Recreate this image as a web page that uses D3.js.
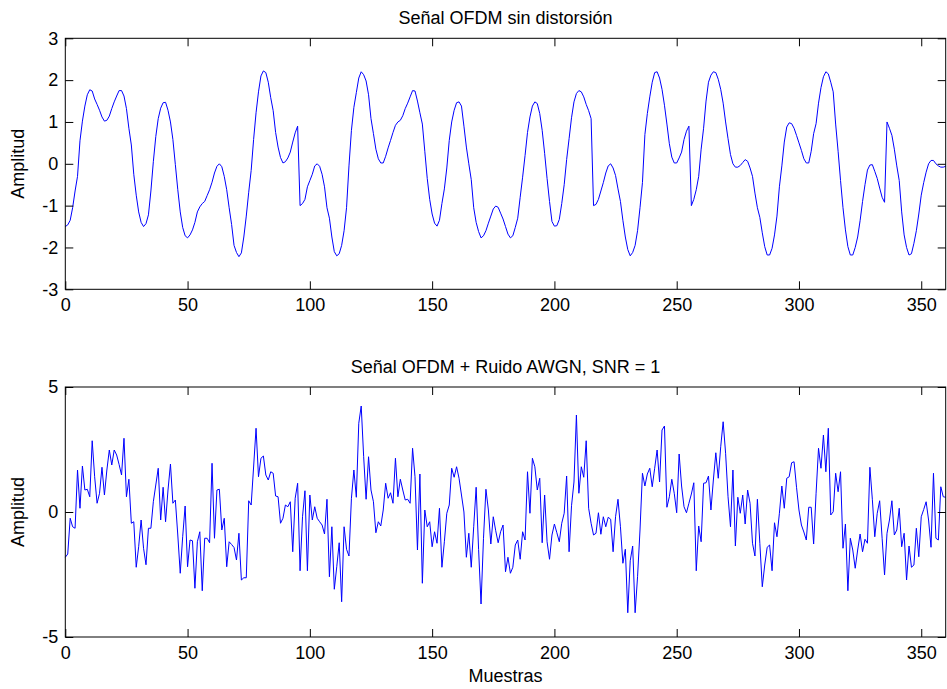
<!DOCTYPE html>
<html>
<head>
<meta charset="utf-8">
<script src="https://cdn.jsdelivr.net/npm/d3@7"></script>
<style>
  body { margin: 0; background: #fff; }
  svg text { font-family: "Liberation Sans", Arial, Helvetica, sans-serif; }
</style>
</head>
<body>
<svg id="fig" width="947" height="689"></svg>
<script>
// Señal OFDM limpia, una muestra por índice (0..360)
const senalLimpia = [
  -1.50, -1.46, -1.35, -1.05, -0.65, -0.30, 0.55, 1.02, 1.38, 1.65,
  1.77, 1.74, 1.55, 1.42, 1.28, 1.12, 1.02, 1.04, 1.14, 1.32,
  1.48, 1.62, 1.75, 1.75, 1.62, 1.32, 0.85, 0.45, -0.25, -0.75,
  -1.15, -1.40, -1.50, -1.43, -1.22, -0.65, 0.05, 0.65, 1.08, 1.33,
  1.46, 1.47, 1.28, 1.00, 0.58, -0.02, -0.62, -1.15, -1.52, -1.72,
  -1.77, -1.70, -1.58, -1.40, -1.15, -1.03, -0.95, -0.90, -0.76, -0.62,
  -0.44, -0.22, -0.06, 0.00, -0.07, -0.30, -0.62, -1.05, -1.45, -1.95,
  -2.12, -2.22, -2.13, -1.75, -1.25, -0.68, -0.16, 0.58, 1.22, 1.72,
  2.10, 2.22, 2.18, 1.95, 1.58, 1.27, 0.75, 0.40, 0.15, 0.02,
  0.05, 0.14, 0.28, 0.52, 0.74, 0.90, -1.00, -0.95, -0.85, -0.55,
  -0.40, -0.25, -0.05, 0.00, -0.06, -0.25, -0.55, -1.05, -1.30, -1.75,
  -2.10, -2.20, -2.15, -1.95, -1.60, -1.05, -0.05, 0.80, 1.35, 1.70,
  2.05, 2.20, 2.13, 1.98, 1.65, 1.08, 0.72, 0.35, 0.12, 0.02,
  0.02, 0.18, 0.38, 0.56, 0.75, 0.92, 1.00, 1.04, 1.15, 1.32,
  1.45, 1.60, 1.75, 1.74, 1.50, 1.22, 0.95, 0.30, -0.35, -0.85,
  -1.20, -1.42, -1.49, -1.35, -0.95, -0.60, -0.10, 0.56, 1.00, 1.28,
  1.46, 1.48, 1.38, 0.90, 0.40, 0.00, -0.38, -1.05, -1.40, -1.62,
  -1.77, -1.72, -1.60, -1.42, -1.25, -1.08, -1.01, -1.04, -1.18, -1.32,
  -1.50, -1.68, -1.77, -1.72, -1.52, -1.30, -0.80, -0.32, 0.20, 0.75,
  1.12, 1.38, 1.48, 1.44, 1.20, 0.80, 0.25, -0.35, -0.90, -1.38,
  -1.49, -1.48, -1.33, -0.95, -0.50, 0.10, 0.60, 1.10, 1.48, 1.68,
  1.75, 1.72, 1.60, 1.42, 1.27, 1.08, -1.00, -0.97, -0.85, -0.65,
  -0.45, -0.22, -0.05, 0.00, -0.10, -0.28, -0.60, -0.90, -1.35, -1.75,
  -2.05, -2.20, -2.12, -1.95, -1.60, -1.05, -0.45, 0.70, 1.20, 1.60,
  1.95, 2.18, 2.20, 2.05, 1.78, 1.40, 0.95, 0.48, 0.16, 0.02,
  0.02, 0.14, 0.28, 0.58, 0.78, 0.90, -1.00, -0.85, -0.62, -0.30,
  0.35, 0.85, 1.50, 1.95, 2.12, 2.20, 2.18, 2.02, 1.78, 1.45,
  1.00, 0.60, 0.22, 0.00, -0.08, -0.08, -0.04, 0.03, 0.10, 0.06,
  -0.10, -0.30, -0.70, -1.05, -1.28, -1.65, -1.98, -2.18, -2.18, -2.02,
  -1.70, -1.25, -0.55, -0.05, 0.52, 0.88, 0.98, 0.96, 0.85, 0.68,
  0.50, 0.32, 0.12, 0.02, 0.02, 0.30, 0.72, 0.96, 1.45, 1.82,
  2.08, 2.20, 2.15, 1.95, 1.72, 0.95, 0.30, -0.40, -1.05, -1.58,
  -1.98, -2.18, -2.18, -2.00, -1.75, -1.36, -0.90, -0.50, -0.15, -0.03,
  -0.02, -0.18, -0.35, -0.58, -0.80, -0.92, 1.00, 0.85, 0.68, 0.35,
  -0.05, -0.40, -1.15, -1.70, -2.00, -2.18, -2.15, -1.90, -1.60, -1.20,
  -0.75, -0.45, -0.20, 0.00, 0.08, 0.08, 0.00, -0.05, -0.08, -0.08,
  -0.06
];

// La misma señal tras el canal AWGN (SNR = 1)
const senalRuidosa = [
  -1.81, -1.68, -0.25, -0.59, -0.65, 1.68, 0.15, 1.84, 0.88, 0.91,
  0.61, 2.85, 1.41, 0.35, 0.75, 1.79, 0.68, 1.68, 2.48, 1.88,
  2.48, 2.28, 1.90, 1.48, 2.95, 0.61, 1.31, -0.45, -0.39, -2.21,
  -1.39, -0.32, -1.45, -2.11, -0.65, -0.65, 0.41, 1.08, 1.75, -0.32,
  0.99, -0.39, 0.88, 1.92, 0.35, 0.48, -0.92, -2.45, -0.99, 0.24,
  -2.19, -1.12, -1.15, -3.05, -1.19, -0.79, -3.15, -1.05, -1.05, -1.23,
  1.95, -1.05, 0.88, 0.91, -0.72, -0.25, -2.19, -1.19, -1.30, -1.42,
  -1.92, -0.85, -2.72, -2.63, -2.63, 0.45, 0.28, 1.80, 3.35, 1.41,
  2.15, 2.24, 1.48, 1.28, 1.61, 1.55, 0.64, 0.61, -0.45, -0.25,
  0.28, 0.21, 0.41, -1.59, 0.55, 1.15, -2.35, -0.19, 0.85, -2.35,
  0.68, -0.32, 0.21, -0.25, -0.39, -0.52, -0.88, 0.51, -2.59, -0.59,
  -3.09, -2.19, -1.23, -3.59, -0.59, -1.49, -1.76, 0.55, 1.68, 0.59,
  3.55, 4.24, 2.21, 0.51, 2.21, 0.88, 0.41, -0.83, -0.39, -0.56,
  0.08, 1.15, 0.55, 0.77, 0.35, 2.15, 0.61, 1.31, 0.88, 0.48,
  0.51, 0.35, 2.55, 1.41, -1.52, 1.52, -2.85, 0.08, -0.59, -0.39,
  -1.39, -0.79, -1.25, 0.15, -2.21, -1.19, -0.05, 0.28, 1.75, 1.39,
  1.81, 1.35, 0.68, 0.00, -1.81, -0.85, -2.21, -0.59, 0.99, -1.50,
  -3.68, -1.05, 0.91, 0.08, -1.28, -0.19, -0.75, -1.23, -0.79, -0.52,
  -2.39, -1.81, -2.45, -2.21, -1.32, -1.12, -1.89, -0.79, -1.12, 1.61,
  -0.05, 2.15, 1.81, 0.88, 1.35, -1.23, 0.68, -1.19, -1.89, -0.92,
  -0.48, -0.83, -1.19, -0.45, -0.05, 1.44, -1.59, 0.25, 1.20, 3.88,
  0.75, 1.81, 1.39, 2.85, 0.15, -0.45, -0.92, -0.85, -0.03, -0.89,
  -0.19, -0.59, -0.21, -0.29, -1.59, -0.19, 0.51, -0.59, -2.05, -1.49,
  -4.03, -1.95, -1.36, -4.03, -2.59, -0.72, 1.55, 1.04, 1.52, 1.75,
  1.01, 1.75, 2.48, 1.20, 3.28, 3.44, 0.19, 0.61, 1.31, 0.75,
  -0.03, 2.32, 1.04, 0.21, -0.03, 0.35, 0.72, 1.17, -2.35, -0.56,
  -1.19, 1.15, 1.17, 1.44, 0.08, 1.28, 2.37, 1.35, 2.61, 3.61,
  2.35, 0.61, -0.59, 1.68, -1.36, 0.59, -0.05, 0.68, -0.48, 0.88,
  0.35, -1.25, -1.76, 0.51, -1.25, -2.99, -2.12, -1.41, -1.32, -2.35,
  -0.43, -0.99, -0.05, 1.04, 0.15, 1.35, 1.41, 1.97, 2.01, 0.99,
  0.08, -0.52, -0.80, -1.12, 0.19, 0.19, -1.28, 0.75, 2.55, 1.75,
  3.08, 1.61, 3.35, -0.12, 0.01, 1.55, 0.81, 1.61, -1.45, -0.48,
  -3.15, -1.05, -1.52, -2.25, -1.52, -0.88, -1.59, -1.09, -1.25, 1.79,
  0.51, -0.99, -0.05, 0.45, -1.05, -2.52, -0.85, -0.32, 0.45, -0.92,
  -0.72, 0.15, -1.39, -0.85, -2.72, -1.36, -2.21, -2.12, -0.65, -1.79,
  -0.19, 0.10, 0.41, -0.32, -1.41, 1.55, -1.05, -1.12, 1.01, 0.61,
  0.59
];

const ticksMuestras = [0, 50, 100, 150, 200, 250, 300, 350];
const ticksAmplitudSup = [-3, -2, -1, 0, 1, 2, 3];
const ticksAmplitudInf = [-5, 0, 5];
const limiteMuestras = [0, 360];
const limiteSup = [-3, 3];
const limiteInf = [-5, 5];

const titulos = ["Señal OFDM sin distorsión", "Señal OFDM + Ruido AWGN, SNR = 1"];
const etiquetaY = "Amplitud";
const etiquetaX = "Muestras";

// Geometría de las dos subgráficas
const izq = 65.3, der = 945.7;
const FUENTE = 18;
const TICK = 8;

const paneles = [
  { datos: senalLimpia, dominio: limiteSup, ticks: ticksAmplitudSup, arriba: 38.3, abajo: 289.3, titulo: titulos[0], conEtiquetaX: false },
  { datos: senalRuidosa, dominio: limiteInf, ticks: ticksAmplitudInf, arriba: 387, abajo: 637, titulo: titulos[1], conEtiquetaX: true }
];

const svg = d3.select("#fig");
svg.append("rect").attr("width", 947).attr("height", 689).attr("fill", "#fff");

const x = d3.scaleLinear().domain(limiteMuestras).range([izq, der]);
const fmt = d => String(d);

function estilo(sel) {
  sel.select(".domain").remove();
  sel.attr("font-size", FUENTE).attr("font-family", null).attr("color", "#000");
  sel.selectAll("line").attr("stroke", "#000").attr("stroke-width", 1);
  sel.selectAll("text").attr("fill", "#000");
}

paneles.forEach(p => {
  const y = d3.scaleLinear().domain(p.dominio).range([p.abajo, p.arriba]);
  const g = svg.append("g");

  // Trazo de la señal
  g.append("path")
    .datum(p.datos)
    .attr("fill", "none")
    .attr("stroke", "#0000ff")
    .attr("stroke-width", 1)
    .attr("stroke-linejoin", "round")
    .attr("d", d3.line().x((d, i) => x(i)).y(d => y(d)));

  // Ejes con marcas hacia dentro, estilo caja
  g.append("g").attr("transform", `translate(0,${p.abajo})`)
    .call(d3.axisBottom(x).tickValues(ticksMuestras).tickSize(-TICK).tickPadding(9).tickFormat(fmt))
    .call(estilo);
  g.append("g").attr("transform", `translate(0,${p.arriba})`)
    .call(d3.axisTop(x).tickValues(ticksMuestras).tickSize(-TICK).tickFormat(""))
    .call(estilo);
  g.append("g").attr("transform", `translate(${izq},0)`)
    .call(d3.axisLeft(y).tickValues(p.ticks).tickSize(-TICK).tickPadding(7).tickFormat(fmt))
    .call(estilo);
  g.append("g").attr("transform", `translate(${der},0)`)
    .call(d3.axisRight(y).tickValues(p.ticks).tickSize(-TICK).tickFormat(""))
    .call(estilo);

  g.append("rect")
    .attr("x", izq).attr("y", p.arriba)
    .attr("width", der - izq).attr("height", p.abajo - p.arriba)
    .attr("fill", "none").attr("stroke", "#000").attr("stroke-width", 1);

  // Título
  g.append("text")
    .attr("x", (izq + der) / 2).attr("y", p.arriba - 14)
    .attr("text-anchor", "middle").attr("font-size", FUENTE)
    .text(p.titulo);

  // Etiqueta del eje Y
  g.append("text")
    .attr("transform", `translate(24,${(p.arriba + p.abajo) / 2}) rotate(-90)`)
    .attr("text-anchor", "middle").attr("font-size", FUENTE)
    .text(etiquetaY);

  if (p.conEtiquetaX) {
    g.append("text")
      .attr("x", (izq + der) / 2).attr("y", p.abajo + 45)
      .attr("text-anchor", "middle").attr("font-size", FUENTE)
      .text(etiquetaX);
  }
});
</script>
</body>
</html>
